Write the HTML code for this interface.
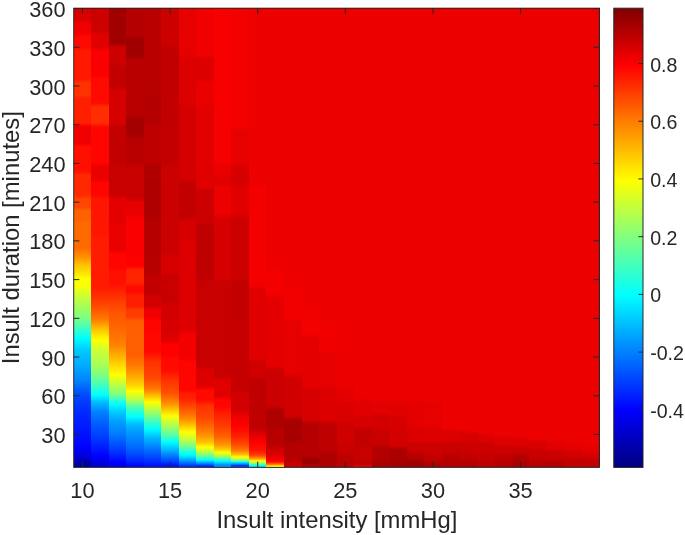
<!DOCTYPE html>
<html><head><meta charset="utf-8"><title>Insult intensity vs duration</title>
<style>html,body{margin:0;padding:0;background:#fff}body{width:685px;height:535px;overflow:hidden}</style></head>
<body>
<svg width="685" height="535" viewBox="0 0 685 535" style="display:block">
<rect width="685" height="535" fill="#fff"/>
<defs><linearGradient id="c0" gradientUnits="userSpaceOnUse" x1="0" y1="8.2" x2="0" y2="467.4"><stop offset="0.0000" stop-color="#d70000"/><stop offset="0.0235" stop-color="#d70000"/><stop offset="0.0322" stop-color="#f00000"/><stop offset="0.0540" stop-color="#f00000"/><stop offset="0.0592" stop-color="#ff0000"/><stop offset="0.0627" stop-color="#ff0a00"/><stop offset="0.0845" stop-color="#ff0a00"/><stop offset="0.0932" stop-color="#ff1900"/><stop offset="0.1542" stop-color="#ff1900"/><stop offset="0.1629" stop-color="#ff3200"/><stop offset="0.1890" stop-color="#ff3200"/><stop offset="0.1977" stop-color="#ff1e00"/><stop offset="0.2500" stop-color="#ff1e00"/><stop offset="0.2558" stop-color="#ff0000"/><stop offset="0.2587" stop-color="#f00000"/><stop offset="0.2936" stop-color="#f00000"/><stop offset="0.2979" stop-color="#ff0000"/><stop offset="0.3023" stop-color="#ff0f00"/><stop offset="0.3545" stop-color="#ff0f00"/><stop offset="0.3632" stop-color="#ff2800"/><stop offset="0.4068" stop-color="#ff2800"/><stop offset="0.4155" stop-color="#ff4600"/><stop offset="0.4329" stop-color="#ff4600"/><stop offset="0.4416" stop-color="#ff6200"/><stop offset="0.4612" stop-color="#ff6200"/><stop offset="0.4699" stop-color="#ff6a00"/><stop offset="0.5222" stop-color="#ff6a00"/><stop offset="0.5440" stop-color="#ff9600"/><stop offset="0.5571" stop-color="#ffbe00"/><stop offset="0.5745" stop-color="#ffde00"/><stop offset="0.5897" stop-color="#ffff00"/><stop offset="0.6050" stop-color="#faff05"/><stop offset="0.6202" stop-color="#d7ff28"/><stop offset="0.6463" stop-color="#aaff55"/><stop offset="0.6725" stop-color="#82ff7d"/><stop offset="0.6943" stop-color="#46ffb9"/><stop offset="0.7182" stop-color="#00ffff"/><stop offset="0.7465" stop-color="#00c8ff"/><stop offset="0.7792" stop-color="#00aaff"/><stop offset="0.8118" stop-color="#0082ff"/><stop offset="0.8380" stop-color="#0050ff"/><stop offset="0.8619" stop-color="#0037ff"/><stop offset="0.8902" stop-color="#0023ff"/><stop offset="0.9229" stop-color="#0014ff"/><stop offset="0.9512" stop-color="#0005ff"/><stop offset="0.9542" stop-color="#0000ff"/><stop offset="0.9752" stop-color="#0000dc"/><stop offset="0.9926" stop-color="#0000a0"/><stop offset="1.0000" stop-color="#0000a0"/></linearGradient>
<linearGradient id="c1" gradientUnits="userSpaceOnUse" x1="0" y1="8.2" x2="0" y2="467.4"><stop offset="0.0000" stop-color="#cd0000"/><stop offset="0.0497" stop-color="#cd0000"/><stop offset="0.0584" stop-color="#e10000"/><stop offset="0.0845" stop-color="#e10000"/><stop offset="0.0932" stop-color="#fa0000"/><stop offset="0.1455" stop-color="#fa0000"/><stop offset="0.1484" stop-color="#ff0000"/><stop offset="0.1542" stop-color="#ff0a00"/><stop offset="0.2064" stop-color="#ff0a00"/><stop offset="0.2152" stop-color="#ff2d00"/><stop offset="0.2500" stop-color="#ff2d00"/><stop offset="0.2587" stop-color="#ff0500"/><stop offset="0.3371" stop-color="#ff0500"/><stop offset="0.3389" stop-color="#ff0000"/><stop offset="0.3458" stop-color="#eb0000"/><stop offset="0.3720" stop-color="#eb0000"/><stop offset="0.3789" stop-color="#ff0000"/><stop offset="0.3807" stop-color="#ff0500"/><stop offset="0.4068" stop-color="#ff0500"/><stop offset="0.4155" stop-color="#ff1600"/><stop offset="0.4917" stop-color="#ff1600"/><stop offset="0.5004" stop-color="#ff1c00"/><stop offset="0.6093" stop-color="#ff1c00"/><stop offset="0.6311" stop-color="#ff3200"/><stop offset="0.6529" stop-color="#ff5000"/><stop offset="0.6768" stop-color="#ff7800"/><stop offset="0.6921" stop-color="#ffaa00"/><stop offset="0.7051" stop-color="#ffd200"/><stop offset="0.7226" stop-color="#ffff00"/><stop offset="0.7465" stop-color="#c8ff37"/><stop offset="0.7748" stop-color="#aaff55"/><stop offset="0.8010" stop-color="#78ff87"/><stop offset="0.8227" stop-color="#3cffc3"/><stop offset="0.8423" stop-color="#00ffff"/><stop offset="0.8576" stop-color="#00beff"/><stop offset="0.8794" stop-color="#0082ff"/><stop offset="0.9077" stop-color="#005aff"/><stop offset="0.9338" stop-color="#003cff"/><stop offset="0.9556" stop-color="#001eff"/><stop offset="0.9752" stop-color="#0000ff"/><stop offset="0.9926" stop-color="#0000d7"/><stop offset="1.0000" stop-color="#0000d7"/></linearGradient>
<linearGradient id="c2" gradientUnits="userSpaceOnUse" x1="0" y1="8.2" x2="0" y2="467.4"><stop offset="0.0000" stop-color="#a00000"/><stop offset="0.0758" stop-color="#a00000"/><stop offset="0.0845" stop-color="#cd0000"/><stop offset="0.1193" stop-color="#cd0000"/><stop offset="0.1280" stop-color="#c30000"/><stop offset="0.1716" stop-color="#c30000"/><stop offset="0.1803" stop-color="#d70000"/><stop offset="0.2500" stop-color="#d70000"/><stop offset="0.2587" stop-color="#c30000"/><stop offset="0.3371" stop-color="#c30000"/><stop offset="0.3458" stop-color="#c80000"/><stop offset="0.4068" stop-color="#c80000"/><stop offset="0.4155" stop-color="#e40000"/><stop offset="0.4656" stop-color="#e40000"/><stop offset="0.4743" stop-color="#eb0000"/><stop offset="0.5266" stop-color="#eb0000"/><stop offset="0.5335" stop-color="#ff0000"/><stop offset="0.5353" stop-color="#ff0500"/><stop offset="0.5658" stop-color="#ff0500"/><stop offset="0.5745" stop-color="#ff0f00"/><stop offset="0.5984" stop-color="#ff0f00"/><stop offset="0.6202" stop-color="#ff2800"/><stop offset="0.6572" stop-color="#ff5000"/><stop offset="0.7008" stop-color="#ff6900"/><stop offset="0.7334" stop-color="#ff8200"/><stop offset="0.7596" stop-color="#ffb400"/><stop offset="0.7792" stop-color="#ffdc00"/><stop offset="0.7988" stop-color="#ffff00"/><stop offset="0.8162" stop-color="#c8ff37"/><stop offset="0.8402" stop-color="#82ff7d"/><stop offset="0.8521" stop-color="#3cffc3"/><stop offset="0.8619" stop-color="#00ffff"/><stop offset="0.8772" stop-color="#00d2ff"/><stop offset="0.8990" stop-color="#00a0ff"/><stop offset="0.9229" stop-color="#0082ff"/><stop offset="0.9447" stop-color="#005aff"/><stop offset="0.9665" stop-color="#0032ff"/><stop offset="0.9817" stop-color="#000fff"/><stop offset="0.9882" stop-color="#0000ff"/><stop offset="0.9948" stop-color="#0000f0"/><stop offset="1.0000" stop-color="#0000f0"/></linearGradient>
<linearGradient id="c3" gradientUnits="userSpaceOnUse" x1="0" y1="8.2" x2="0" y2="467.4"><stop offset="0.0000" stop-color="#b40000"/><stop offset="0.0584" stop-color="#b40000"/><stop offset="0.0671" stop-color="#a00000"/><stop offset="0.1041" stop-color="#a00000"/><stop offset="0.1128" stop-color="#b90000"/><stop offset="0.2326" stop-color="#b90000"/><stop offset="0.2413" stop-color="#a50000"/><stop offset="0.2761" stop-color="#a50000"/><stop offset="0.2848" stop-color="#b90000"/><stop offset="0.3371" stop-color="#b90000"/><stop offset="0.3458" stop-color="#c80000"/><stop offset="0.4133" stop-color="#c80000"/><stop offset="0.4220" stop-color="#e60000"/><stop offset="0.4482" stop-color="#e60000"/><stop offset="0.4569" stop-color="#fa0000"/><stop offset="0.5331" stop-color="#fa0000"/><stop offset="0.5418" stop-color="#ff0000"/><stop offset="0.5614" stop-color="#ff0000"/><stop offset="0.5701" stop-color="#ff2300"/><stop offset="0.5984" stop-color="#ff2300"/><stop offset="0.6071" stop-color="#ff0a00"/><stop offset="0.6180" stop-color="#ff0a00"/><stop offset="0.6267" stop-color="#ff1e00"/><stop offset="0.6485" stop-color="#ff1e00"/><stop offset="0.6572" stop-color="#ff3c00"/><stop offset="0.6725" stop-color="#ff3c00"/><stop offset="0.6812" stop-color="#ff5f00"/><stop offset="0.7552" stop-color="#ff5f00"/><stop offset="0.7770" stop-color="#ff7800"/><stop offset="0.8031" stop-color="#ffaa00"/><stop offset="0.8206" stop-color="#ffd200"/><stop offset="0.8336" stop-color="#ffff00"/><stop offset="0.8510" stop-color="#beff41"/><stop offset="0.8641" stop-color="#6eff91"/><stop offset="0.8750" stop-color="#32ffcd"/><stop offset="0.8902" stop-color="#00ffff"/><stop offset="0.9055" stop-color="#00beff"/><stop offset="0.9251" stop-color="#0096ff"/><stop offset="0.9469" stop-color="#0078ff"/><stop offset="0.9643" stop-color="#005aff"/><stop offset="0.9817" stop-color="#0032ff"/><stop offset="0.9948" stop-color="#000aff"/><stop offset="1.0000" stop-color="#000aff"/></linearGradient>
<linearGradient id="c4" gradientUnits="userSpaceOnUse" x1="0" y1="8.2" x2="0" y2="467.4"><stop offset="0.0000" stop-color="#b90000"/><stop offset="0.1803" stop-color="#b90000"/><stop offset="0.1890" stop-color="#b40000"/><stop offset="0.2500" stop-color="#b40000"/><stop offset="0.2587" stop-color="#be0000"/><stop offset="0.3371" stop-color="#be0000"/><stop offset="0.3458" stop-color="#b00000"/><stop offset="0.3720" stop-color="#b00000"/><stop offset="0.3807" stop-color="#ae0000"/><stop offset="0.4547" stop-color="#ae0000"/><stop offset="0.4634" stop-color="#b60000"/><stop offset="0.5440" stop-color="#b60000"/><stop offset="0.5527" stop-color="#b90000"/><stop offset="0.5788" stop-color="#b90000"/><stop offset="0.5875" stop-color="#c30000"/><stop offset="0.6202" stop-color="#c30000"/><stop offset="0.6289" stop-color="#d20000"/><stop offset="0.6485" stop-color="#d20000"/><stop offset="0.6572" stop-color="#f00000"/><stop offset="0.6725" stop-color="#f00000"/><stop offset="0.6790" stop-color="#ff0000"/><stop offset="0.6812" stop-color="#ff0500"/><stop offset="0.7008" stop-color="#ff0500"/><stop offset="0.7095" stop-color="#ff0800"/><stop offset="0.7465" stop-color="#ff0800"/><stop offset="0.7705" stop-color="#ff3200"/><stop offset="0.8053" stop-color="#ff4600"/><stop offset="0.8293" stop-color="#ff7800"/><stop offset="0.8445" stop-color="#ffbe00"/><stop offset="0.8576" stop-color="#ffff00"/><stop offset="0.8706" stop-color="#c8ff37"/><stop offset="0.8859" stop-color="#82ff7d"/><stop offset="0.9011" stop-color="#3cffc3"/><stop offset="0.9164" stop-color="#00ffff"/><stop offset="0.9338" stop-color="#00beff"/><stop offset="0.9512" stop-color="#008cff"/><stop offset="0.9665" stop-color="#0064ff"/><stop offset="0.9817" stop-color="#003cff"/><stop offset="0.9948" stop-color="#0014ff"/><stop offset="1.0000" stop-color="#0014ff"/></linearGradient>
<linearGradient id="c5" gradientUnits="userSpaceOnUse" x1="0" y1="8.2" x2="0" y2="467.4"><stop offset="0.0000" stop-color="#cd0000"/><stop offset="0.0758" stop-color="#cd0000"/><stop offset="0.0845" stop-color="#c30000"/><stop offset="0.3371" stop-color="#c30000"/><stop offset="0.3458" stop-color="#cb0000"/><stop offset="0.5331" stop-color="#cb0000"/><stop offset="0.5418" stop-color="#d70000"/><stop offset="0.5745" stop-color="#d70000"/><stop offset="0.5832" stop-color="#c80000"/><stop offset="0.6376" stop-color="#c80000"/><stop offset="0.6463" stop-color="#d20000"/><stop offset="0.6725" stop-color="#d20000"/><stop offset="0.6812" stop-color="#d70000"/><stop offset="0.7073" stop-color="#d70000"/><stop offset="0.7160" stop-color="#e10000"/><stop offset="0.7247" stop-color="#e10000"/><stop offset="0.7334" stop-color="#ff0000"/><stop offset="0.7552" stop-color="#ff0000"/><stop offset="0.7639" stop-color="#ff0a00"/><stop offset="0.7879" stop-color="#ff0a00"/><stop offset="0.8097" stop-color="#ff3200"/><stop offset="0.8380" stop-color="#ff5000"/><stop offset="0.8598" stop-color="#ff8c00"/><stop offset="0.8750" stop-color="#ffc800"/><stop offset="0.8881" stop-color="#ffff00"/><stop offset="0.8990" stop-color="#d2ff2d"/><stop offset="0.9142" stop-color="#96ff69"/><stop offset="0.9294" stop-color="#5affa5"/><stop offset="0.9447" stop-color="#00ffff"/><stop offset="0.9578" stop-color="#00c8ff"/><stop offset="0.9730" stop-color="#0082ff"/><stop offset="0.9861" stop-color="#0046ff"/><stop offset="0.9948" stop-color="#0014ff"/><stop offset="1.0000" stop-color="#0014ff"/></linearGradient>
<linearGradient id="c6" gradientUnits="userSpaceOnUse" x1="0" y1="8.2" x2="0" y2="467.4"><stop offset="0.0000" stop-color="#e60000"/><stop offset="0.1019" stop-color="#e60000"/><stop offset="0.1106" stop-color="#dc0000"/><stop offset="0.2064" stop-color="#dc0000"/><stop offset="0.2152" stop-color="#d40000"/><stop offset="0.3720" stop-color="#d40000"/><stop offset="0.3807" stop-color="#c30000"/><stop offset="0.4547" stop-color="#c30000"/><stop offset="0.4634" stop-color="#d70000"/><stop offset="0.5004" stop-color="#d70000"/><stop offset="0.5091" stop-color="#dc0000"/><stop offset="0.7008" stop-color="#dc0000"/><stop offset="0.7095" stop-color="#f50000"/><stop offset="0.7618" stop-color="#f50000"/><stop offset="0.7676" stop-color="#ff0000"/><stop offset="0.7705" stop-color="#ff0500"/><stop offset="0.8314" stop-color="#ff0500"/><stop offset="0.8402" stop-color="#ff1e00"/><stop offset="0.8489" stop-color="#ff1e00"/><stop offset="0.8619" stop-color="#ff3c00"/><stop offset="0.8794" stop-color="#ff6400"/><stop offset="0.8946" stop-color="#ff8c00"/><stop offset="0.9077" stop-color="#ffbe00"/><stop offset="0.9229" stop-color="#ffff00"/><stop offset="0.9382" stop-color="#c8ff37"/><stop offset="0.9534" stop-color="#78ff87"/><stop offset="0.9665" stop-color="#1effe1"/><stop offset="0.9715" stop-color="#00ffff"/><stop offset="0.9774" stop-color="#00dcff"/><stop offset="0.9882" stop-color="#0082ff"/><stop offset="0.9970" stop-color="#0032ff"/><stop offset="1.0000" stop-color="#0032ff"/></linearGradient>
<linearGradient id="c7" gradientUnits="userSpaceOnUse" x1="0" y1="8.2" x2="0" y2="467.4"><stop offset="0.0000" stop-color="#f00000"/><stop offset="0.1019" stop-color="#f00000"/><stop offset="0.1106" stop-color="#dc0000"/><stop offset="0.1542" stop-color="#dc0000"/><stop offset="0.1629" stop-color="#eb0000"/><stop offset="0.2064" stop-color="#eb0000"/><stop offset="0.2152" stop-color="#e30000"/><stop offset="0.3371" stop-color="#e30000"/><stop offset="0.3458" stop-color="#e00000"/><stop offset="0.3894" stop-color="#e00000"/><stop offset="0.3981" stop-color="#cc0000"/><stop offset="0.4656" stop-color="#cc0000"/><stop offset="0.4743" stop-color="#be0000"/><stop offset="0.5875" stop-color="#be0000"/><stop offset="0.5963" stop-color="#c80000"/><stop offset="0.7792" stop-color="#c80000"/><stop offset="0.7879" stop-color="#de0000"/><stop offset="0.8227" stop-color="#de0000"/><stop offset="0.8294" stop-color="#ff0000"/><stop offset="0.8314" stop-color="#ff0a00"/><stop offset="0.8532" stop-color="#ff0a00"/><stop offset="0.8663" stop-color="#ff3200"/><stop offset="0.8924" stop-color="#ff4600"/><stop offset="0.9142" stop-color="#ff6e00"/><stop offset="0.9316" stop-color="#ff9600"/><stop offset="0.9469" stop-color="#ffc800"/><stop offset="0.9556" stop-color="#ffff00"/><stop offset="0.9665" stop-color="#beff41"/><stop offset="0.9752" stop-color="#64ff9b"/><stop offset="0.9839" stop-color="#00ffff"/><stop offset="0.9904" stop-color="#0096ff"/><stop offset="0.9970" stop-color="#0028ff"/><stop offset="1.0000" stop-color="#0028ff"/></linearGradient>
<linearGradient id="c8" gradientUnits="userSpaceOnUse" x1="0" y1="8.2" x2="0" y2="467.4"><stop offset="0.0000" stop-color="#f60000"/><stop offset="0.3328" stop-color="#f60000"/><stop offset="0.3415" stop-color="#eb0000"/><stop offset="0.3589" stop-color="#eb0000"/><stop offset="0.3676" stop-color="#e10000"/><stop offset="0.3807" stop-color="#e10000"/><stop offset="0.3894" stop-color="#ec0000"/><stop offset="0.4482" stop-color="#ec0000"/><stop offset="0.4569" stop-color="#d70000"/><stop offset="0.5875" stop-color="#d70000"/><stop offset="0.5963" stop-color="#c80000"/><stop offset="0.8010" stop-color="#c80000"/><stop offset="0.8097" stop-color="#e10000"/><stop offset="0.8445" stop-color="#e10000"/><stop offset="0.8520" stop-color="#ff0000"/><stop offset="0.8532" stop-color="#ff0500"/><stop offset="0.8663" stop-color="#ff0500"/><stop offset="0.8837" stop-color="#ff1e00"/><stop offset="0.9098" stop-color="#ff3c00"/><stop offset="0.9338" stop-color="#ff6400"/><stop offset="0.9512" stop-color="#ff9600"/><stop offset="0.9621" stop-color="#ffd200"/><stop offset="0.9670" stop-color="#ffff00"/><stop offset="0.9708" stop-color="#dcff23"/><stop offset="0.9784" stop-color="#82ff7d"/><stop offset="0.9861" stop-color="#00ffff"/><stop offset="0.9948" stop-color="#008cff"/><stop offset="1.0000" stop-color="#008cff"/></linearGradient>
<linearGradient id="c9" gradientUnits="userSpaceOnUse" x1="0" y1="8.2" x2="0" y2="467.4"><stop offset="0.0000" stop-color="#f30000"/><stop offset="0.2587" stop-color="#f30000"/><stop offset="0.2674" stop-color="#e60000"/><stop offset="0.3371" stop-color="#e60000"/><stop offset="0.3458" stop-color="#d70000"/><stop offset="0.3807" stop-color="#d70000"/><stop offset="0.3894" stop-color="#e00000"/><stop offset="0.4482" stop-color="#e00000"/><stop offset="0.4569" stop-color="#cd0000"/><stop offset="0.5875" stop-color="#cd0000"/><stop offset="0.5963" stop-color="#c30000"/><stop offset="0.6747" stop-color="#c30000"/><stop offset="0.6834" stop-color="#c60000"/><stop offset="0.8314" stop-color="#c60000"/><stop offset="0.8402" stop-color="#d20000"/><stop offset="0.8750" stop-color="#d20000"/><stop offset="0.8902" stop-color="#f00000"/><stop offset="0.9098" stop-color="#ff0000"/><stop offset="0.9316" stop-color="#ff1e00"/><stop offset="0.9490" stop-color="#ff4600"/><stop offset="0.9632" stop-color="#ff7800"/><stop offset="0.9721" stop-color="#ffbe00"/><stop offset="0.9774" stop-color="#ffff00"/><stop offset="0.9839" stop-color="#96ff69"/><stop offset="0.9883" stop-color="#00ffff"/><stop offset="0.9893" stop-color="#00dcff"/><stop offset="0.9959" stop-color="#003cff"/><stop offset="1.0000" stop-color="#003cff"/></linearGradient>
<linearGradient id="c10" gradientUnits="userSpaceOnUse" x1="0" y1="8.2" x2="0" y2="467.4"><stop offset="0.0000" stop-color="#ec0000"/><stop offset="0.3807" stop-color="#ec0000"/><stop offset="0.3894" stop-color="#f40000"/><stop offset="0.6006" stop-color="#f40000"/><stop offset="0.6137" stop-color="#e10000"/><stop offset="0.7618" stop-color="#e10000"/><stop offset="0.7705" stop-color="#d00000"/><stop offset="0.8010" stop-color="#d00000"/><stop offset="0.8097" stop-color="#be0000"/><stop offset="0.9142" stop-color="#be0000"/><stop offset="0.9284" stop-color="#e10000"/><stop offset="0.9469" stop-color="#ff0000"/><stop offset="0.9632" stop-color="#ff1400"/><stop offset="0.9730" stop-color="#ff3c00"/><stop offset="0.9806" stop-color="#ff9600"/><stop offset="0.9861" stop-color="#ffff00"/><stop offset="0.9915" stop-color="#82ff7d"/><stop offset="0.9961" stop-color="#00ffff"/><stop offset="0.9970" stop-color="#00e6ff"/><stop offset="1.0000" stop-color="#00e6ff"/></linearGradient>
<linearGradient id="c11" gradientUnits="userSpaceOnUse" x1="0" y1="8.2" x2="0" y2="467.4"><stop offset="0.0000" stop-color="#ec0000"/><stop offset="0.5658" stop-color="#ec0000"/><stop offset="0.5745" stop-color="#f40000"/><stop offset="0.6224" stop-color="#f40000"/><stop offset="0.6311" stop-color="#e40000"/><stop offset="0.7792" stop-color="#e40000"/><stop offset="0.7879" stop-color="#cb0000"/><stop offset="0.8663" stop-color="#cb0000"/><stop offset="0.8750" stop-color="#af0000"/><stop offset="0.9098" stop-color="#af0000"/><stop offset="0.9186" stop-color="#b90000"/><stop offset="0.9490" stop-color="#b90000"/><stop offset="0.9676" stop-color="#d70000"/><stop offset="0.9789" stop-color="#eb0000"/><stop offset="0.9848" stop-color="#ff0000"/><stop offset="0.9878" stop-color="#ff0a00"/><stop offset="0.9935" stop-color="#ff7800"/><stop offset="0.9976" stop-color="#ffff00"/><stop offset="1.0000" stop-color="#ffff00"/></linearGradient>
<linearGradient id="c12" gradientUnits="userSpaceOnUse" x1="0" y1="8.2" x2="0" y2="467.4"><stop offset="0.0000" stop-color="#ec0000"/><stop offset="0.6050" stop-color="#ec0000"/><stop offset="0.6137" stop-color="#f20000"/><stop offset="0.6747" stop-color="#f20000"/><stop offset="0.6834" stop-color="#e60000"/><stop offset="0.7966" stop-color="#e60000"/><stop offset="0.8053" stop-color="#d00000"/><stop offset="0.8881" stop-color="#d00000"/><stop offset="0.8968" stop-color="#a80000"/><stop offset="0.9403" stop-color="#a80000"/><stop offset="0.9490" stop-color="#b40000"/><stop offset="0.9752" stop-color="#b40000"/><stop offset="0.9817" stop-color="#b90000"/><stop offset="0.9861" stop-color="#b90000"/><stop offset="0.9910" stop-color="#c80000"/><stop offset="1.0000" stop-color="#c80000"/></linearGradient>
<linearGradient id="c13" gradientUnits="userSpaceOnUse" x1="0" y1="8.2" x2="0" y2="467.4"><stop offset="0.0000" stop-color="#ec0000"/><stop offset="0.6442" stop-color="#ec0000"/><stop offset="0.6529" stop-color="#f30000"/><stop offset="0.7095" stop-color="#f30000"/><stop offset="0.7182" stop-color="#e50000"/><stop offset="0.8227" stop-color="#e50000"/><stop offset="0.8314" stop-color="#d70000"/><stop offset="0.8968" stop-color="#d70000"/><stop offset="0.9055" stop-color="#b40000"/><stop offset="0.9490" stop-color="#b40000"/><stop offset="0.9578" stop-color="#b90000"/><stop offset="0.9752" stop-color="#b90000"/><stop offset="0.9828" stop-color="#9b0000"/><stop offset="0.9893" stop-color="#9b0000"/><stop offset="0.9942" stop-color="#b40000"/><stop offset="1.0000" stop-color="#b40000"/></linearGradient>
<linearGradient id="c14" gradientUnits="userSpaceOnUse" x1="0" y1="8.2" x2="0" y2="467.4"><stop offset="0.0000" stop-color="#ec0000"/><stop offset="0.6855" stop-color="#ec0000"/><stop offset="0.6943" stop-color="#f10000"/><stop offset="0.7443" stop-color="#f10000"/><stop offset="0.7530" stop-color="#e70000"/><stop offset="0.8227" stop-color="#e70000"/><stop offset="0.8314" stop-color="#dc0000"/><stop offset="0.8968" stop-color="#dc0000"/><stop offset="0.9055" stop-color="#be0000"/><stop offset="0.9621" stop-color="#be0000"/><stop offset="0.9708" stop-color="#af0000"/><stop offset="1.0000" stop-color="#af0000"/></linearGradient>
<linearGradient id="c15" gradientUnits="userSpaceOnUse" x1="0" y1="8.2" x2="0" y2="467.4"><stop offset="0.0000" stop-color="#ec0000"/><stop offset="0.8227" stop-color="#ec0000"/><stop offset="0.8314" stop-color="#e40000"/><stop offset="0.8532" stop-color="#e40000"/><stop offset="0.8619" stop-color="#da0000"/><stop offset="0.8968" stop-color="#da0000"/><stop offset="0.9055" stop-color="#d00000"/><stop offset="0.9403" stop-color="#d00000"/><stop offset="0.9490" stop-color="#c80000"/><stop offset="0.9665" stop-color="#c80000"/><stop offset="0.9752" stop-color="#be0000"/><stop offset="1.0000" stop-color="#be0000"/></linearGradient>
<linearGradient id="c16" gradientUnits="userSpaceOnUse" x1="0" y1="8.2" x2="0" y2="467.4"><stop offset="0.0000" stop-color="#ec0000"/><stop offset="0.8489" stop-color="#ec0000"/><stop offset="0.8576" stop-color="#e10000"/><stop offset="0.8837" stop-color="#e10000"/><stop offset="0.8924" stop-color="#d70000"/><stop offset="0.9098" stop-color="#d70000"/><stop offset="0.9186" stop-color="#c30000"/><stop offset="0.9490" stop-color="#c30000"/><stop offset="0.9578" stop-color="#c80000"/><stop offset="0.9839" stop-color="#c80000"/><stop offset="0.9899" stop-color="#be0000"/><stop offset="0.9931" stop-color="#be0000"/><stop offset="0.9959" stop-color="#e10000"/><stop offset="1.0000" stop-color="#e10000"/></linearGradient>
<linearGradient id="c17" gradientUnits="userSpaceOnUse" x1="0" y1="8.2" x2="0" y2="467.4"><stop offset="0.0000" stop-color="#ec0000"/><stop offset="0.8532" stop-color="#ec0000"/><stop offset="0.8619" stop-color="#e40000"/><stop offset="0.8794" stop-color="#e40000"/><stop offset="0.8881" stop-color="#d20000"/><stop offset="0.9142" stop-color="#d20000"/><stop offset="0.9229" stop-color="#c80000"/><stop offset="0.9490" stop-color="#c80000"/><stop offset="0.9578" stop-color="#b40000"/><stop offset="0.9795" stop-color="#b40000"/><stop offset="0.9877" stop-color="#aa0000"/><stop offset="1.0000" stop-color="#aa0000"/></linearGradient>
<linearGradient id="c18" gradientUnits="userSpaceOnUse" x1="0" y1="8.2" x2="0" y2="467.4"><stop offset="0.0000" stop-color="#ec0000"/><stop offset="0.8532" stop-color="#ec0000"/><stop offset="0.8619" stop-color="#e10000"/><stop offset="0.8837" stop-color="#e10000"/><stop offset="0.8924" stop-color="#d70000"/><stop offset="0.9186" stop-color="#d70000"/><stop offset="0.9273" stop-color="#d20000"/><stop offset="0.9534" stop-color="#d20000"/><stop offset="0.9621" stop-color="#aa0000"/><stop offset="0.9795" stop-color="#aa0000"/><stop offset="0.9877" stop-color="#a50000"/><stop offset="1.0000" stop-color="#a50000"/></linearGradient>
<linearGradient id="c19" gradientUnits="userSpaceOnUse" x1="0" y1="8.2" x2="0" y2="467.4"><stop offset="0.0000" stop-color="#ec0000"/><stop offset="0.8532" stop-color="#ec0000"/><stop offset="0.8619" stop-color="#e40000"/><stop offset="0.9098" stop-color="#e40000"/><stop offset="0.9186" stop-color="#da0000"/><stop offset="0.9403" stop-color="#da0000"/><stop offset="0.9490" stop-color="#cd0000"/><stop offset="0.9621" stop-color="#cd0000"/><stop offset="0.9708" stop-color="#b90000"/><stop offset="0.9795" stop-color="#b90000"/><stop offset="0.9877" stop-color="#a00000"/><stop offset="1.0000" stop-color="#a00000"/></linearGradient>
<linearGradient id="c20" gradientUnits="userSpaceOnUse" x1="0" y1="8.2" x2="0" y2="467.4"><stop offset="0.0000" stop-color="#ec0000"/><stop offset="0.8532" stop-color="#ec0000"/><stop offset="0.8619" stop-color="#e60000"/><stop offset="0.9098" stop-color="#e60000"/><stop offset="0.9186" stop-color="#de0000"/><stop offset="0.9403" stop-color="#de0000"/><stop offset="0.9490" stop-color="#cd0000"/><stop offset="0.9665" stop-color="#cd0000"/><stop offset="0.9752" stop-color="#c30000"/><stop offset="0.9839" stop-color="#c30000"/><stop offset="0.9910" stop-color="#af0000"/><stop offset="1.0000" stop-color="#af0000"/></linearGradient>
<linearGradient id="c21" gradientUnits="userSpaceOnUse" x1="0" y1="8.2" x2="0" y2="467.4"><stop offset="0.0000" stop-color="#ec0000"/><stop offset="0.9142" stop-color="#ec0000"/><stop offset="0.9229" stop-color="#dc0000"/><stop offset="0.9403" stop-color="#dc0000"/><stop offset="0.9490" stop-color="#c80000"/><stop offset="0.9665" stop-color="#c80000"/><stop offset="0.9752" stop-color="#b90000"/><stop offset="1.0000" stop-color="#b90000"/></linearGradient>
<linearGradient id="c22" gradientUnits="userSpaceOnUse" x1="0" y1="8.2" x2="0" y2="467.4"><stop offset="0.0000" stop-color="#ec0000"/><stop offset="0.9186" stop-color="#ec0000"/><stop offset="0.9273" stop-color="#d70000"/><stop offset="0.9403" stop-color="#d70000"/><stop offset="0.9490" stop-color="#cd0000"/><stop offset="0.9621" stop-color="#cd0000"/><stop offset="0.9708" stop-color="#c30000"/><stop offset="0.9795" stop-color="#c30000"/><stop offset="0.9877" stop-color="#b40000"/><stop offset="1.0000" stop-color="#b40000"/></linearGradient>
<linearGradient id="c23" gradientUnits="userSpaceOnUse" x1="0" y1="8.2" x2="0" y2="467.4"><stop offset="0.0000" stop-color="#ec0000"/><stop offset="0.9229" stop-color="#ec0000"/><stop offset="0.9316" stop-color="#dc0000"/><stop offset="0.9403" stop-color="#dc0000"/><stop offset="0.9490" stop-color="#cd0000"/><stop offset="0.9621" stop-color="#cd0000"/><stop offset="0.9708" stop-color="#c80000"/><stop offset="0.9795" stop-color="#c80000"/><stop offset="0.9877" stop-color="#be0000"/><stop offset="1.0000" stop-color="#be0000"/></linearGradient>
<linearGradient id="c24" gradientUnits="userSpaceOnUse" x1="0" y1="8.2" x2="0" y2="467.4"><stop offset="0.0000" stop-color="#ec0000"/><stop offset="0.9294" stop-color="#ec0000"/><stop offset="0.9382" stop-color="#dc0000"/><stop offset="0.9490" stop-color="#dc0000"/><stop offset="0.9578" stop-color="#cd0000"/><stop offset="0.9665" stop-color="#cd0000"/><stop offset="0.9752" stop-color="#be0000"/><stop offset="0.9839" stop-color="#be0000"/><stop offset="0.9910" stop-color="#b90000"/><stop offset="1.0000" stop-color="#b90000"/></linearGradient>
<linearGradient id="c25" gradientUnits="userSpaceOnUse" x1="0" y1="8.2" x2="0" y2="467.4"><stop offset="0.0000" stop-color="#ec0000"/><stop offset="0.9316" stop-color="#ec0000"/><stop offset="0.9403" stop-color="#dc0000"/><stop offset="0.9534" stop-color="#dc0000"/><stop offset="0.9610" stop-color="#c80000"/><stop offset="0.9676" stop-color="#c80000"/><stop offset="0.9752" stop-color="#b40000"/><stop offset="0.9839" stop-color="#b40000"/><stop offset="0.9910" stop-color="#aa0000"/><stop offset="1.0000" stop-color="#aa0000"/></linearGradient>
<linearGradient id="c26" gradientUnits="userSpaceOnUse" x1="0" y1="8.2" x2="0" y2="467.4"><stop offset="0.0000" stop-color="#ec0000"/><stop offset="0.9382" stop-color="#ec0000"/><stop offset="0.9469" stop-color="#d70000"/><stop offset="0.9578" stop-color="#d70000"/><stop offset="0.9665" stop-color="#c80000"/><stop offset="0.9795" stop-color="#c80000"/><stop offset="0.9877" stop-color="#b90000"/><stop offset="1.0000" stop-color="#b90000"/></linearGradient>
<linearGradient id="c27" gradientUnits="userSpaceOnUse" x1="0" y1="8.2" x2="0" y2="467.4"><stop offset="0.0000" stop-color="#ec0000"/><stop offset="0.9403" stop-color="#ec0000"/><stop offset="0.9490" stop-color="#e10000"/><stop offset="0.9578" stop-color="#e10000"/><stop offset="0.9665" stop-color="#cd0000"/><stop offset="0.9795" stop-color="#cd0000"/><stop offset="0.9877" stop-color="#b40000"/><stop offset="1.0000" stop-color="#b40000"/></linearGradient>
<linearGradient id="c28" gradientUnits="userSpaceOnUse" x1="0" y1="8.2" x2="0" y2="467.4"><stop offset="0.0000" stop-color="#ec0000"/><stop offset="0.9447" stop-color="#ec0000"/><stop offset="0.9523" stop-color="#e40000"/><stop offset="0.9588" stop-color="#e40000"/><stop offset="0.9665" stop-color="#d20000"/><stop offset="0.9752" stop-color="#d20000"/><stop offset="0.9839" stop-color="#c30000"/><stop offset="1.0000" stop-color="#c30000"/></linearGradient>
<linearGradient id="c29" gradientUnits="userSpaceOnUse" x1="0" y1="8.2" x2="0" y2="467.4"><stop offset="0.0000" stop-color="#ec0000"/><stop offset="0.9490" stop-color="#ec0000"/><stop offset="0.9567" stop-color="#e60000"/><stop offset="0.9632" stop-color="#e60000"/><stop offset="0.9697" stop-color="#d70000"/><stop offset="0.9763" stop-color="#d70000"/><stop offset="0.9839" stop-color="#c30000"/><stop offset="1.0000" stop-color="#c30000"/></linearGradient></defs>
<g shape-rendering="crispEdges"><rect x="73.70" y="8.2" width="17.92" height="459.2" fill="url(#c0)"/>
<rect x="91.22" y="8.2" width="17.92" height="459.2" fill="url(#c1)"/>
<rect x="108.75" y="8.2" width="17.92" height="459.2" fill="url(#c2)"/>
<rect x="126.27" y="8.2" width="17.92" height="459.2" fill="url(#c3)"/>
<rect x="143.79" y="8.2" width="17.92" height="459.2" fill="url(#c4)"/>
<rect x="161.32" y="8.2" width="17.92" height="459.2" fill="url(#c5)"/>
<rect x="178.84" y="8.2" width="17.92" height="459.2" fill="url(#c6)"/>
<rect x="196.36" y="8.2" width="17.92" height="459.2" fill="url(#c7)"/>
<rect x="213.89" y="8.2" width="17.92" height="459.2" fill="url(#c8)"/>
<rect x="231.41" y="8.2" width="17.92" height="459.2" fill="url(#c9)"/>
<rect x="248.93" y="8.2" width="17.92" height="459.2" fill="url(#c10)"/>
<rect x="266.46" y="8.2" width="17.92" height="459.2" fill="url(#c11)"/>
<rect x="283.98" y="8.2" width="17.92" height="459.2" fill="url(#c12)"/>
<rect x="301.50" y="8.2" width="17.92" height="459.2" fill="url(#c13)"/>
<rect x="319.03" y="8.2" width="17.92" height="459.2" fill="url(#c14)"/>
<rect x="336.55" y="8.2" width="17.92" height="459.2" fill="url(#c15)"/>
<rect x="354.07" y="8.2" width="17.92" height="459.2" fill="url(#c16)"/>
<rect x="371.60" y="8.2" width="17.92" height="459.2" fill="url(#c17)"/>
<rect x="389.12" y="8.2" width="17.92" height="459.2" fill="url(#c18)"/>
<rect x="406.64" y="8.2" width="17.92" height="459.2" fill="url(#c19)"/>
<rect x="424.17" y="8.2" width="17.92" height="459.2" fill="url(#c20)"/>
<rect x="441.69" y="8.2" width="17.92" height="459.2" fill="url(#c21)"/>
<rect x="459.21" y="8.2" width="17.92" height="459.2" fill="url(#c22)"/>
<rect x="476.74" y="8.2" width="17.92" height="459.2" fill="url(#c23)"/>
<rect x="494.26" y="8.2" width="17.92" height="459.2" fill="url(#c24)"/>
<rect x="511.78" y="8.2" width="17.92" height="459.2" fill="url(#c25)"/>
<rect x="529.31" y="8.2" width="17.92" height="459.2" fill="url(#c26)"/>
<rect x="546.83" y="8.2" width="17.92" height="459.2" fill="url(#c27)"/>
<rect x="564.35" y="8.2" width="17.92" height="459.2" fill="url(#c28)"/>
<rect x="581.88" y="8.2" width="17.92" height="459.2" fill="url(#c29)"/></g>
<defs><linearGradient id="cb" x1="0" y1="1" x2="0" y2="0">
<stop offset="0.0000" stop-color="#000080"/>
<stop offset="0.0156" stop-color="#00008f"/>
<stop offset="0.0312" stop-color="#00009f"/>
<stop offset="0.0469" stop-color="#0000af"/>
<stop offset="0.0625" stop-color="#0000bf"/>
<stop offset="0.0781" stop-color="#0000cf"/>
<stop offset="0.0938" stop-color="#0000df"/>
<stop offset="0.1094" stop-color="#0000ef"/>
<stop offset="0.1250" stop-color="#0000ff"/>
<stop offset="0.1406" stop-color="#0010ff"/>
<stop offset="0.1562" stop-color="#0020ff"/>
<stop offset="0.1719" stop-color="#0030ff"/>
<stop offset="0.1875" stop-color="#0040ff"/>
<stop offset="0.2031" stop-color="#0050ff"/>
<stop offset="0.2188" stop-color="#0060ff"/>
<stop offset="0.2344" stop-color="#0070ff"/>
<stop offset="0.2500" stop-color="#0080ff"/>
<stop offset="0.2656" stop-color="#008fff"/>
<stop offset="0.2812" stop-color="#009fff"/>
<stop offset="0.2969" stop-color="#00afff"/>
<stop offset="0.3125" stop-color="#00bfff"/>
<stop offset="0.3281" stop-color="#00cfff"/>
<stop offset="0.3438" stop-color="#00dfff"/>
<stop offset="0.3594" stop-color="#00efff"/>
<stop offset="0.3750" stop-color="#00ffff"/>
<stop offset="0.3906" stop-color="#10ffef"/>
<stop offset="0.4062" stop-color="#20ffdf"/>
<stop offset="0.4219" stop-color="#30ffcf"/>
<stop offset="0.4375" stop-color="#40ffbf"/>
<stop offset="0.4531" stop-color="#50ffaf"/>
<stop offset="0.4688" stop-color="#60ff9f"/>
<stop offset="0.4844" stop-color="#70ff8f"/>
<stop offset="0.5000" stop-color="#80ff80"/>
<stop offset="0.5156" stop-color="#8fff70"/>
<stop offset="0.5312" stop-color="#9fff60"/>
<stop offset="0.5469" stop-color="#afff50"/>
<stop offset="0.5625" stop-color="#bfff40"/>
<stop offset="0.5781" stop-color="#cfff30"/>
<stop offset="0.5938" stop-color="#dfff20"/>
<stop offset="0.6094" stop-color="#efff10"/>
<stop offset="0.6250" stop-color="#ffff00"/>
<stop offset="0.6406" stop-color="#ffef00"/>
<stop offset="0.6562" stop-color="#ffdf00"/>
<stop offset="0.6719" stop-color="#ffcf00"/>
<stop offset="0.6875" stop-color="#ffbf00"/>
<stop offset="0.7031" stop-color="#ffaf00"/>
<stop offset="0.7188" stop-color="#ff9f00"/>
<stop offset="0.7344" stop-color="#ff8f00"/>
<stop offset="0.7500" stop-color="#ff8000"/>
<stop offset="0.7656" stop-color="#ff7000"/>
<stop offset="0.7812" stop-color="#ff6000"/>
<stop offset="0.7969" stop-color="#ff5000"/>
<stop offset="0.8125" stop-color="#ff4000"/>
<stop offset="0.8281" stop-color="#ff3000"/>
<stop offset="0.8438" stop-color="#ff2000"/>
<stop offset="0.8594" stop-color="#ff1000"/>
<stop offset="0.8750" stop-color="#ff0000"/>
<stop offset="0.8906" stop-color="#ef0000"/>
<stop offset="0.9062" stop-color="#df0000"/>
<stop offset="0.9219" stop-color="#cf0000"/>
<stop offset="0.9375" stop-color="#bf0000"/>
<stop offset="0.9531" stop-color="#af0000"/>
<stop offset="0.9688" stop-color="#9f0000"/>
<stop offset="0.9844" stop-color="#8f0000"/>
<stop offset="1.0000" stop-color="#800000"/>
</linearGradient></defs>
<rect x="613.8" y="8.2" width="29.200000000000045" height="459.2" fill="url(#cb)"/>
<g fill="none" stroke="#262626" stroke-width="1">
<rect x="73.7" y="8.2" width="525.6999999999999" height="459.2"/>
<rect x="613.8" y="8.2" width="29.200000000000045" height="459.2"/>
<path d="M82.46 467.4v-5.7M82.46 8.2v5.7"/>
<path d="M170.08 467.4v-5.7M170.08 8.2v5.7"/>
<path d="M257.69 467.4v-5.7M257.69 8.2v5.7"/>
<path d="M345.31 467.4v-5.7M345.31 8.2v5.7"/>
<path d="M432.93 467.4v-5.7M432.93 8.2v5.7"/>
<path d="M520.54 467.4v-5.7M520.54 8.2v5.7"/>
<path d="M73.7 434.48h5.7M599.4 434.48h-5.7"/>
<path d="M73.7 395.76h5.7M599.4 395.76h-5.7"/>
<path d="M73.7 357.04h5.7M599.4 357.04h-5.7"/>
<path d="M73.7 318.32h5.7M599.4 318.32h-5.7"/>
<path d="M73.7 279.60h5.7M599.4 279.60h-5.7"/>
<path d="M73.7 240.87h5.7M599.4 240.87h-5.7"/>
<path d="M73.7 202.15h5.7M599.4 202.15h-5.7"/>
<path d="M73.7 163.43h5.7M599.4 163.43h-5.7"/>
<path d="M73.7 124.71h5.7M599.4 124.71h-5.7"/>
<path d="M73.7 85.99h5.7M599.4 85.99h-5.7"/>
<path d="M73.7 47.27h5.7M599.4 47.27h-5.7"/>
<path d="M73.7 8.55h5.7M599.4 8.55h-5.7"/>
<path d="M643.0 63.50h-4.6"/>
<path d="M643.0 121.22h-4.6"/>
<path d="M643.0 178.94h-4.6"/>
<path d="M643.0 236.66h-4.6"/>
<path d="M643.0 294.38h-4.6"/>
<path d="M643.0 352.10h-4.6"/>
<path d="M643.0 409.82h-4.6"/>
</g>
<g font-family="'Liberation Sans', Arial, Helvetica, sans-serif" fill="#262626">
<text x="82.46" y="497.6" font-size="21.8" text-anchor="middle">10</text>
<text x="170.08" y="497.6" font-size="21.8" text-anchor="middle">15</text>
<text x="257.69" y="497.6" font-size="21.8" text-anchor="middle">20</text>
<text x="345.31" y="497.6" font-size="21.8" text-anchor="middle">25</text>
<text x="432.93" y="497.6" font-size="21.8" text-anchor="middle">30</text>
<text x="520.54" y="497.6" font-size="21.8" text-anchor="middle">35</text>
<text x="65.6" y="443.08" font-size="21.8" text-anchor="end">30</text>
<text x="65.6" y="404.36" font-size="21.8" text-anchor="end">60</text>
<text x="65.6" y="365.64" font-size="21.8" text-anchor="end">90</text>
<text x="65.6" y="326.92" font-size="21.8" text-anchor="end">120</text>
<text x="65.6" y="288.20" font-size="21.8" text-anchor="end">150</text>
<text x="65.6" y="249.47" font-size="21.8" text-anchor="end">180</text>
<text x="65.6" y="210.75" font-size="21.8" text-anchor="end">210</text>
<text x="65.6" y="172.03" font-size="21.8" text-anchor="end">240</text>
<text x="65.6" y="133.31" font-size="21.8" text-anchor="end">270</text>
<text x="65.6" y="94.59" font-size="21.8" text-anchor="end">300</text>
<text x="65.6" y="55.87" font-size="21.8" text-anchor="end">330</text>
<text x="65.6" y="17.15" font-size="21.8" text-anchor="end">360</text>
<text x="650.2" y="71.50" font-size="19.6">0.8</text>
<text x="650.2" y="129.22" font-size="19.6">0.6</text>
<text x="650.2" y="186.94" font-size="19.6">0.4</text>
<text x="650.2" y="244.66" font-size="19.6">0.2</text>
<text x="650.2" y="302.38" font-size="19.6">0</text>
<text x="650.2" y="360.10" font-size="19.6">-0.2</text>
<text x="650.2" y="417.82" font-size="19.6">-0.4</text>
<text x="336.9" y="528.4" font-size="23.83" text-anchor="middle">Insult intensity [mmHg]</text>
<text transform="translate(19.4,237.7) rotate(-90)" font-size="23.83" text-anchor="middle">Insult duration [minutes]</text>
</g>
</svg>
</body></html>
